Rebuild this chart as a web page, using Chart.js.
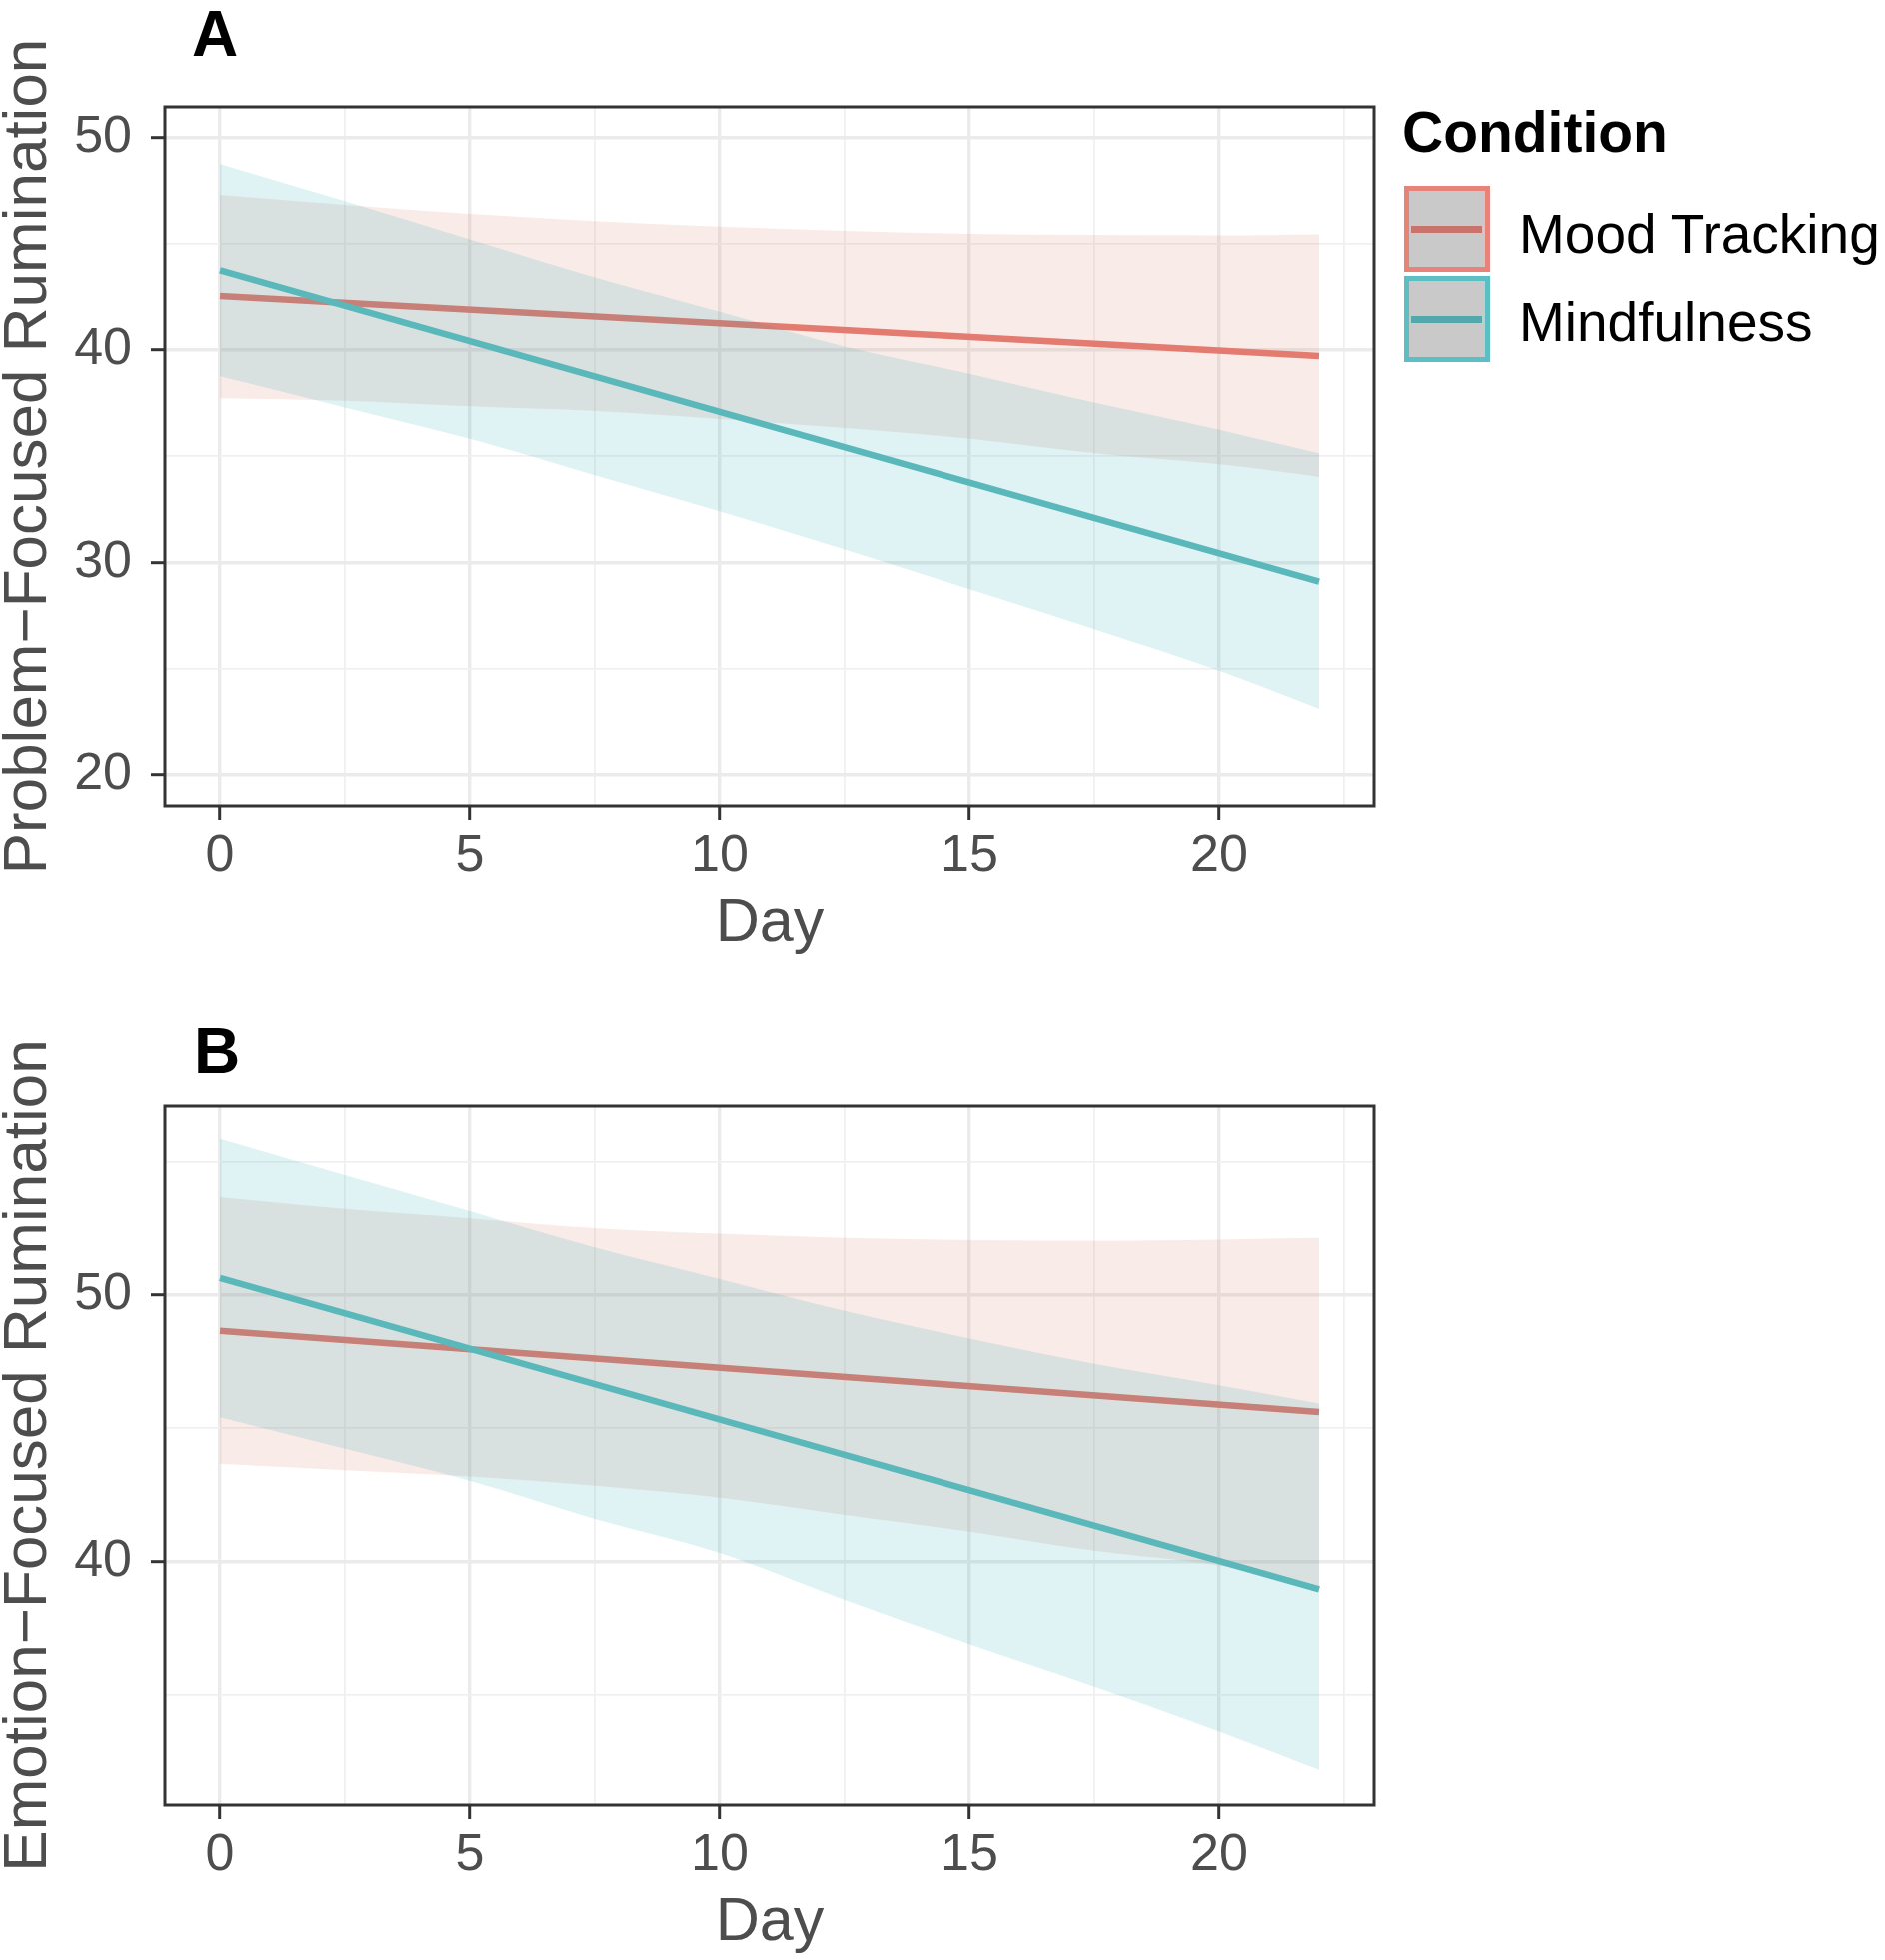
<!DOCTYPE html>
<html>
<head>
<meta charset="utf-8">
<script src="https://cdn.jsdelivr.net/npm/chart.js@4/dist/chart.umd.min.js"></script>
<style>
html,body{margin:0;padding:0;background:#fff;}
body{width:1886px;height:1961px;position:relative;overflow:hidden;font-family:"Liberation Sans",Arial,Helvetica,sans-serif;}
.wrap{position:absolute;left:0;width:1886px;height:961px;}
canvas{display:block;}
.lab{position:absolute;line-height:1;white-space:nowrap;color:#000;}
.key{position:absolute;width:86px;height:86px;box-sizing:border-box;border:5px solid;background:#C9C9C9;}
.kl{position:absolute;left:2px;top:35px;width:71px;height:7px;}
</style>
</head>
<body>
<div class="wrap" style="top:0"><canvas id="cA" width="1886" height="961"></canvas></div>
<div class="wrap" style="top:1000px"><canvas id="cB" width="1886" height="961"></canvas></div>

<div class="lab" style="left:192px;top:2px;font-size:64px;font-weight:bold;">A</div>
<div class="lab" style="left:194px;top:1020px;font-size:64px;font-weight:bold;">B</div>

<div class="lab" style="left:1403px;top:104px;font-size:57px;font-weight:bold;">Condition</div>
<div class="key" style="left:1405px;top:186px;border-color:#E8837A;"><div class="kl" style="background:#C8736B;"></div></div>
<div class="key" style="left:1405px;top:276px;border-color:#5CBFC3;"><div class="kl" style="background:#52A8AB;"></div></div>
<div class="lab" style="left:1520px;top:207px;font-size:55px;">Mood Tracking</div>
<div class="lab" style="left:1520px;top:295px;font-size:55px;">Mindfulness</div>

<script>
// ---------- data ----------
const ribbonDays = [0, 2.5, 5, 7.5, 10, 12.5, 15, 17.5, 20, 22];
const lineDays = [0, 22];

const xMajorTicks = [0, 5, 10, 15, 20];
const xMinorTicks = [2.5, 7.5, 12.5, 17.5, 22.5];

// Panel A: Problem-Focused Rumination
const moodA_fit   = [42.54, 39.72];
const moodA_upper = [47.30, 46.83, 46.40, 46.06, 45.80, 45.60, 45.46, 45.41, 45.39, 45.44];
const moodA_lower = [37.73, 37.61, 37.35, 37.13, 36.76, 36.33, 35.82, 35.14, 34.62, 34.03];
const mindA_fit   = [43.75, 29.10];
const mindA_upper = [48.74, 47.00, 45.20, 43.41, 41.80, 40.17, 38.89, 37.53, 36.25, 35.14];
const mindA_lower = [38.77, 37.30, 35.82, 34.11, 32.41, 30.61, 28.74, 26.86, 24.90, 23.11];
const yMajorA = [20, 30, 40, 50];
const yMinorA = [25, 35, 45];

// Panel B: Emotion-Focused Rumination
const moodB_fit   = [48.66, 45.61];
const moodB_upper = [53.68, 53.24, 52.89, 52.52, 52.31, 52.15, 52.07, 52.04, 52.09, 52.15];
const moodB_lower = [43.67, 43.43, 43.19, 42.84, 42.39, 41.75, 41.12, 40.40, 39.84, 39.07];
const mindB_fit   = [50.65, 38.95];
const mindB_upper = [55.87, 54.51, 53.16, 51.80, 50.61, 49.41, 48.37, 47.42, 46.62, 45.93];
const mindB_lower = [45.42, 44.23, 43.03, 41.60, 40.32, 38.56, 36.89, 35.30, 33.62, 32.18];
const yMajorB = [40, 50];
const yMinorB = [35, 45, 55];

const seriesNames = ['Mood Tracking', 'Mindfulness'];

// ---------- styling ----------
const FONT = "'Liberation Sans', Arial, Helvetica, sans-serif";
Chart.defaults.font.family = FONT;
const RED_LINE = '#E47B71', TEAL_LINE = '#5AB8BB';
const RED_FILL = 'rgba(215,122,102,0.15)', TEAL_FILL = 'rgba(9,163,170,0.13)';
const AXIS_DARK = '#333333', TEXT_GREY = '#4D4D4D';

const pts = (xs, ys) => xs.map((x, i) => ({x: x, y: ys[i]}));

const panelBorder = {
  id: 'panelBorder',
  afterDatasetsDraw(chart) {
    const {ctx, chartArea: a} = chart;
    ctx.save();
    ctx.strokeStyle = AXIS_DARK;
    ctx.lineWidth = 3;
    ctx.strokeRect(a.left, a.top, a.right - a.left, a.bottom - a.top);
    ctx.restore();
  }
};

function gridOpts(majors) {
  const isMajor = c => c.tick && majors.includes(c.tick.value);
  return {
    color: c => isMajor(c) ? '#EBEBEB' : '#F0F0F0',
    lineWidth: c => isMajor(c) ? 3.4 : 1.8,
    tickColor: c => isMajor(c) ? AXIS_DARK : 'rgba(0,0,0,0)',
    tickWidth: 3,
    tickLength: 14,
    drawTicks: true
  };
}

function makePanel(id, d, yMin, yMax, yMajor, yMinor, yTitle) {
  const ribbon = {borderColor: 'transparent', borderWidth: 0, pointRadius: 0, pointHoverRadius: 0, cubicInterpolationMode: 'monotone'};
  const yTicksAll = yMajor.concat(yMinor).sort((a, b) => a - b);
  const xTicksAll = xMajorTicks.concat(xMinorTicks).sort((a, b) => a - b);
  return new Chart(document.getElementById(id), {
    type: 'line',
    data: {
      datasets: [
        Object.assign({label: seriesNames[0] + ' upper', data: pts(ribbonDays, d.moodUp), fill: '+1', backgroundColor: RED_FILL, order: 6}, ribbon),
        Object.assign({label: seriesNames[0] + ' lower', data: pts(ribbonDays, d.moodLo), fill: false, order: 6}, ribbon),
        {label: seriesNames[0], data: pts(lineDays, d.moodFit), fill: false, borderColor: RED_LINE, borderWidth: 6.5, pointRadius: 0, order: 5},
        Object.assign({label: seriesNames[1] + ' upper', data: pts(ribbonDays, d.mindUp), fill: '+1', backgroundColor: TEAL_FILL, order: 4}, ribbon),
        Object.assign({label: seriesNames[1] + ' lower', data: pts(ribbonDays, d.mindLo), fill: false, order: 4}, ribbon),
        {label: seriesNames[1], data: pts(lineDays, d.mindFit), fill: false, borderColor: TEAL_LINE, borderWidth: 6.5, pointRadius: 0, order: 3}
      ]
    },
    options: {
      responsive: false,
      animation: false,
      devicePixelRatio: 1,
      layout: {padding: {top: 107, right: 511, bottom: 0, left: 0}},
      plugins: {legend: {display: false}, tooltip: {enabled: false}},
      scales: {
        x: {
          type: 'linear',
          min: -1.1, max: 23.1,
          afterBuildTicks: s => { s.ticks = xTicksAll.map(v => ({value: v})); },
          afterFit: s => { s.height = 155; },
          border: {display: false},
          grid: gridOpts(xMajorTicks),
          ticks: {
            autoSkip: false, maxRotation: 0, minRotation: 0, padding: 5,
            color: TEXT_GREY, font: {size: 52, family: FONT},
            callback: v => xMajorTicks.includes(v) ? String(v) : ''
          },
          title: {display: true, text: 'Day', color: TEXT_GREY, font: {size: 61, family: FONT, lineHeight: 1.2}, padding: {top: 0, bottom: 0}}
        },
        y: {
          type: 'linear',
          min: yMin, max: yMax,
          afterBuildTicks: s => { s.ticks = yTicksAll.map(v => ({value: v})); },
          afterFit: s => { s.width = 165; },
          border: {display: false},
          grid: gridOpts(yMajor),
          ticks: {
            autoSkip: false, padding: 19,
            color: TEXT_GREY, font: {size: 52, family: FONT},
            callback: v => yMajor.includes(v) ? String(v) : ''
          },
          title: {display: true, text: yTitle, color: TEXT_GREY, font: {size: 62, family: FONT, lineHeight: 0.92}, padding: {top: 0, bottom: 0}}
        }
      }
    },
    plugins: [panelBorder]
  });
}

makePanel('cA', {moodFit: moodA_fit, moodUp: moodA_upper, moodLo: moodA_lower, mindFit: mindA_fit, mindUp: mindA_upper, mindLo: mindA_lower},
  18.54, 51.44, yMajorA, yMinorA, 'Problem\u2212Focused Rumination');
makePanel('cB', {moodFit: moodB_fit, moodUp: moodB_upper, moodLo: moodB_lower, mindFit: mindB_fit, mindUp: mindB_upper, mindLo: mindB_lower},
  30.86, 57.10, yMajorB, yMinorB, 'Emotion\u2212Focused Rumination');
</script>
</body>
</html>
